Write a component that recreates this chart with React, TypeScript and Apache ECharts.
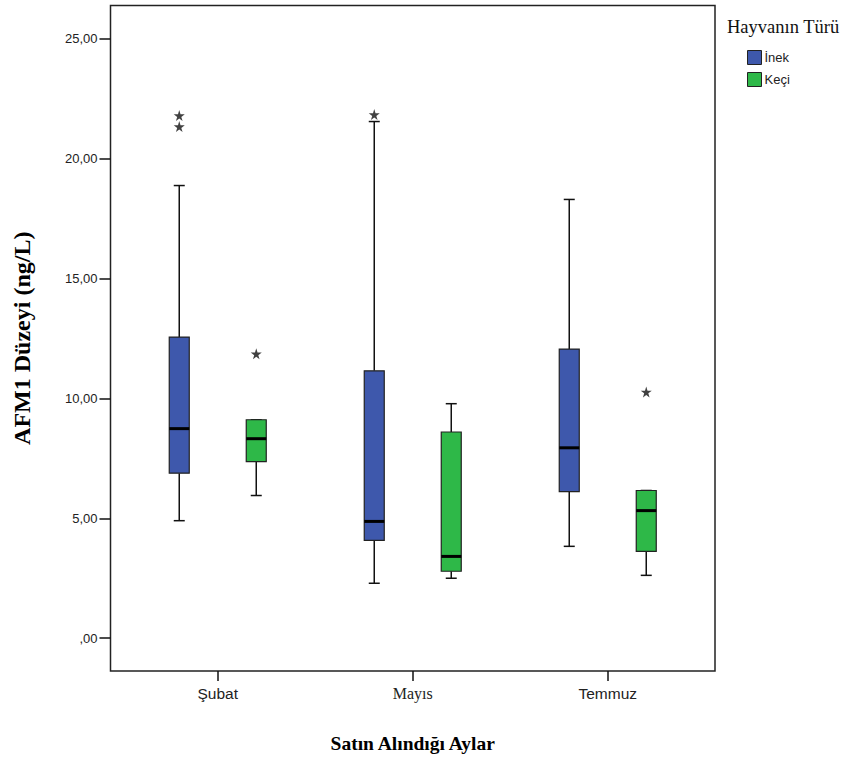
import React, { useEffect, useRef } from "react";
import * as echarts from "echarts";

// ---- data ----
const months = ["Şubat", "Mayıs", "Temmuz"];
const seriesNames = ["İnek", "Keçi"];
// [min, Q1, median, Q3, max] per month
const inekStats = [
  [4.9, 6.88, 8.74, 12.56, 18.88],
  [2.29, 4.08, 4.87, 11.15, 21.55],
  [3.83, 6.11, 7.94, 12.06, 18.3],
];
const keciStats = [
  [5.95, 7.36, 8.32, 9.11, 9.11],
  [2.5, 2.79, 3.41, 8.6, 9.78],
  [2.62, 3.62, 5.32, 6.16, 6.16],
];
// outliers: [monthIndex, value]
const inekOutliers = [
  [0, 21.8],
  [0, 21.34],
  [1, 21.84],
];
const keciOutliers = [
  [0, 11.86],
  [2, 10.27],
];
const yTickValues = [0, 5, 10, 15, 20, 25];
const yRange = [-1.37, 26.39];
const xRange = [-0.55, 2.55];

const BLUE = "#3E58AC";
const GREEN = "#2EB848";
const STAR =
  "path://M50,0 L61,35 L98,35 L68,57 L79,91 L50,70 L21,91 L32,57 L2,35 L39,35 Z";

function boxRenderer(offset: number, color: string) {
  return (params: any, api: any) => {
    const cat = api.value(0);
    const lo = api.coord([cat, api.value(1)]);
    const q1 = api.coord([cat, api.value(2)]);
    const med = api.coord([cat, api.value(3)]);
    const q3 = api.coord([cat, api.value(4)]);
    const hi = api.coord([cat, api.value(5)]);
    const x = lo[0] + offset;
    const halfW = 10;
    const capHalf = 5.5;
    const ls = { stroke: "#111", lineWidth: 1.5 };
    return {
      type: "group",
      children: [
        { type: "line", shape: { x1: x, y1: hi[1], x2: x, y2: q3[1] }, style: ls },
        { type: "line", shape: { x1: x, y1: q1[1], x2: x, y2: lo[1] }, style: ls },
        { type: "line", shape: { x1: x - capHalf, y1: hi[1], x2: x + capHalf, y2: hi[1] }, style: ls },
        { type: "line", shape: { x1: x - capHalf, y1: lo[1], x2: x + capHalf, y2: lo[1] }, style: ls },
        {
          type: "rect",
          shape: { x: x - halfW, y: q3[1], width: halfW * 2, height: q1[1] - q3[1] },
          style: { fill: color, stroke: "#222", lineWidth: 1.2 },
        },
        {
          type: "line",
          shape: { x1: x - halfW, y1: med[1], x2: x + halfW, y2: med[1] },
          style: { stroke: "#000", lineWidth: 3 },
        },
      ],
    };
  };
}

export default function App() {
  const ref = useRef<HTMLDivElement>(null);
  useEffect(() => {
    document.body.style.margin = "0";
    const chart = echarts.init(ref.current!, undefined, { renderer: "svg" });
    const sans = "'Liberation Sans', Arial, sans-serif";
    const serif = "'Liberation Serif', 'Times New Roman', serif";
    chart.setOption({
      animation: false,
      backgroundColor: "#fff",
      grid: {
        left: 110.5,
        right: 127,
        top: 5.5,
        bottom: 85,
        show: true,
        borderColor: "#222",
        borderWidth: 1.5,
        backgroundColor: "transparent",
      },
      xAxis: {
        type: "value",
        min: xRange[0],
        max: xRange[1],
        axisLine: { show: false, onZero: false },
        splitLine: { show: false },
        axisTick: {
          show: true,
          length: 10,
          customValues: months.map((_, i) => i),
          lineStyle: { color: "#111", width: 1.5 },
        },
        axisLabel: {
          margin: 14,
          fontSize: 15.5,
          fontFamily: sans,
          color: "#222",
          customValues: months.map((_, i) => i),
          formatter: (v: number) => {
            const m = months[Math.round(v)];
            return m === "Mayıs" ? "{s|" + m + "}" : m;
          },
          rich: { s: { fontFamily: serif, fontSize: 16, color: "#222" } },
        },
        name: "Satın Alındığı Aylar",
        nameLocation: "middle",
        nameGap: 62,
        nameTextStyle: { fontFamily: serif, fontWeight: "bold", fontSize: 19.5, color: "#000" },
      },
      yAxis: {
        type: "value",
        min: yRange[0],
        max: yRange[1],
        axisLine: { show: false, onZero: false },
        splitLine: { show: false },
        axisTick: {
          show: true,
          length: 11,
          customValues: yTickValues,
          lineStyle: { color: "#111", width: 1.5 },
        },
        axisLabel: {
          margin: 13,
          fontSize: 13,
          fontFamily: sans,
          color: "#222",
          customValues: yTickValues,
          formatter: (v: number) => (v === 0 ? ",00" : v.toFixed(2).replace(".", ",")),
        },
        name: "AFM1 Düzeyi (ng/L)",
        nameLocation: "middle",
        nameRotate: 90,
        nameGap: 77,
        nameTextStyle: { fontFamily: serif, fontWeight: "bold", fontSize: 24, color: "#000" },
      },
      legend: {
        data: seriesNames,
        orient: "vertical",
        left: 747,
        top: 50,
        padding: 0,
        itemWidth: 14,
        itemHeight: 14,
        itemGap: 7,
        icon: "rect",
        itemStyle: { borderColor: "#222", borderWidth: 1 },
        textStyle: { fontFamily: sans, fontSize: 13, color: "#222", padding: [0, 0, 0, -2] },
      },
      graphic: [
        {
          type: "text",
          left: 727,
          top: 17,
          style: { text: "Hayvanın Türü", font: "18.5px " + serif, fill: "#111" },
        },
      ],
      series: [
        {
          name: seriesNames[0],
          type: "custom",
          itemStyle: { color: BLUE, borderColor: "#222" },
          encode: { x: 0, y: [1, 2, 3, 4, 5] },
          data: inekStats.map((s, i) => [i, ...s]),
          renderItem: boxRenderer(-38.5, BLUE),
        },
        {
          name: seriesNames[1],
          type: "custom",
          itemStyle: { color: GREEN, borderColor: "#222" },
          encode: { x: 0, y: [1, 2, 3, 4, 5] },
          data: keciStats.map((s, i) => [i, ...s]),
          renderItem: boxRenderer(38.5, GREEN),
        },
        {
          name: "İnek aykırı",
          type: "scatter",
          symbol: STAR,
          symbolSize: 11,
          symbolOffset: [-38.5, 0],
          itemStyle: { color: "#111" },
          data: inekOutliers,
          z: 5,
        },
        {
          name: "Keçi aykırı",
          type: "scatter",
          symbol: STAR,
          symbolSize: 11,
          symbolOffset: [38.5, 0],
          itemStyle: { color: "#111" },
          data: keciOutliers,
          z: 5,
        },
      ],
    });
    return () => chart.dispose();
  }, []);
  return <div ref={ref} style={{ width: 842, height: 758 }} />;
}
